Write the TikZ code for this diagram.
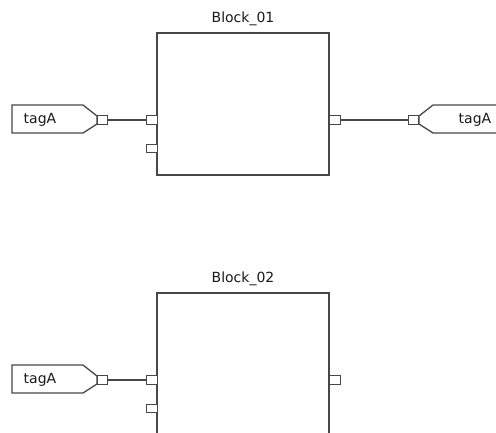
\documentclass[tikz,border=0pt]{standalone}
\usepackage{fontspec}
\setmainfont{DejaVu Sans}
\usetikzlibrary{positioning}

\begin{document}
\begin{tikzpicture}[x=1pt,y=-1pt,
  wire/.style={draw=black!72,line width=1.3pt},
  block/.style={wire,fill=white,minimum width=172pt,minimum height=142pt,inner sep=0pt},
  port/.style={wire,fill=white,minimum width=10.5pt,minimum height=8.5pt,inner sep=0pt},
  txt/.style={font=\fontsize{14}{16}\selectfont,inner sep=0pt,text=black!90}]
  \clip (0,0) rectangle (496,432);
  % Block_01 with its tags
  \node[block] (b1) at (243,104) {};
  \node[txt] (b1name) at (243,18.5) {Block\_01};
  \node[port] (b1in1) at (152,120) {};
  \node[port] (b1in2) at (152,148.5) {};
  \node[port] (b1out) at (335,120) {};
  \draw[wire,fill=white] (12,105) -- (83,105) -- (97,116) -- (97,124) -- (83,133) -- (12,133) -- cycle;
  \node[txt] (tagin1) at (40,120) {tagA};
  \node[port] (tagin1p) at (102.5,120) {};
  \draw[wire] (tagin1p) -- (b1in1);
  \draw[wire,fill=white] (500,105) -- (433,105) -- (419,116) -- (419,124) -- (433,133) -- (500,133);
  \node[txt] (tagout1) at (475,120) {tagA};
  \node[port] (tagout1p) at (413.5,120) {};
  \draw[wire] (b1out) -- (tagout1p);
  % Block_02, cut at the bottom
  \node[block] (b2) at (243,364) {};
  \node[txt] (b2name) at (243,278.5) {Block\_02};
  \node[port] (b2in1) at (152,380) {};
  \node[port] (b2in2) at (152,408.5) {};
  \node[port] (b2out) at (335,380) {};
  \draw[wire,fill=white] (12,365) -- (83,365) -- (97,376) -- (97,384) -- (83,393) -- (12,393) -- cycle;
  \node[txt] (tagin2) at (40,380) {tagA};
  \node[port] (tagin2p) at (102.5,380) {};
  \draw[wire] (tagin2p) -- (b2in1);
\end{tikzpicture}
\end{document}
